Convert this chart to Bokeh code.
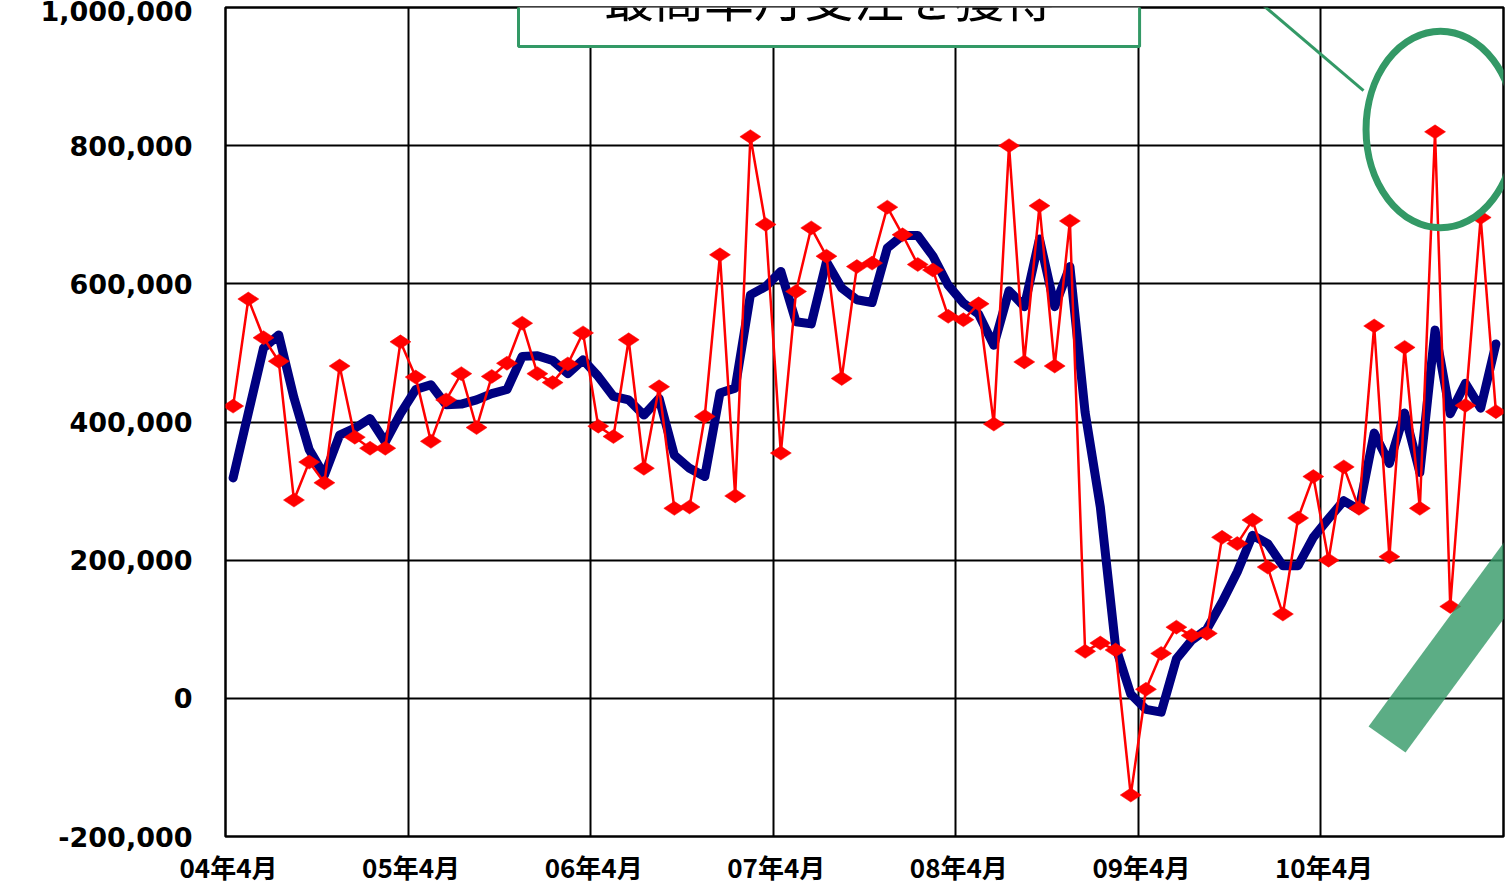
import numpy as np
from bokeh.plotting import figure
from bokeh.models import FixedTicker, NumeralTickFormatter, Range1d
from bokeh.core.properties import value
from bokeh.embed import file_html
from bokeh.resources import INLINE

# ---- data -------------------------------------------------------------
# monthly categories 04年4月 .. 11年3月
months = [f"{4 + (3 + i) // 12:02d}年{(3 + i) % 12 + 1}月" for i in range(84)]
x_idx = list(range(len(months)))

# monthly orders (red)
orders = [423, 578, 522, 488, 287, 342, 312, 481, 378, 362, 362, 516,
          465, 372, 432, 470, 392, 466, 485, 543, 470, 457, 484, 529,
          394, 379, 519, 333, 451, 275, 277, 408, 642, 293, 813, 686,
          355, 589, 681, 640, 463, 625, 630, 711, 671, 628, 620, 553,
          548, 571, 397, 800, 487, 713, 481, 691, 68, 80, 70, -140,
          13, 65, 103, 91, 94, 233, 224, 258, 190, 122, 261, 321,
          200, 335, 275, 539, 205, 508, 275, 820, 133, 424, 696, 415]
orders = [v * 1000 for v in orders]

# trend (navy)
trend = [319, 413, 507, 526, 435, 360, 323, 381, 391, 405, 371, 412,
         447, 454, 425, 426, 432, 441, 447, 495, 496, 489, 470, 490,
         466, 437, 432, 410, 434, 352, 333, 321, 442, 449, 584, 596,
         618, 545, 542, 632, 594, 577, 573, 652, 670, 670, 640, 598,
         572, 556, 511, 590, 567, 665, 567, 625, 414, 277, 75, 6,
         -16, -20, 57, 84, 100, 139, 183, 236, 224, 192, 192, 233,
         260, 286, 273, 384, 340, 413, 327, 533, 412, 456, 420, 513]
trend = [v * 1000 for v in trend]

y_ticks = [-200000, 0, 200000, 400000, 600000, 800000, 1000000]
year_ticks = [i - 0.5 for i, m in enumerate(months) if m.endswith("年4月")]
year_labels = [m for m in months if m.endswith("年4月")]

callout_text = "最高単月受注を獲得"

W = 1509
LEFT = 225
RIGHT = 6
TOP = 7
FRAME_H = 829
BOTTOM = 17
X0, X1 = -0.5, len(months) - 0.5

# ---- main figure ------------------------------------------------------
p = figure(width=W, height=TOP + FRAME_H + BOTTOM,
           x_range=Range1d(X0, X1), y_range=Range1d(-200000, 1000000),
           output_backend="svg", toolbar_location=None,
           min_border_left=LEFT, min_border_right=RIGHT,
           min_border_top=TOP, min_border_bottom=BOTTOM)
p.background_fill_color = "white"
p.border_fill_color = "white"
p.outline_line_color = "black"
p.outline_line_width = 2.5
p.outline_line_alpha = 1.0

p.xaxis.visible = False
p.yaxis.ticker = FixedTicker(ticks=y_ticks)
p.yaxis.formatter = NumeralTickFormatter(format="0,0")
p.yaxis.axis_line_color = None
p.yaxis.major_tick_line_color = None
p.yaxis.minor_tick_line_color = None
p.yaxis.major_label_text_color = "black"
p.yaxis.major_label_text_font_style = "bold"
p.yaxis.major_label_text_font = "DejaVu Sans"
p.yaxis.major_label_text_font_size = "27px"
p.yaxis.major_label_standoff = 27

p.xgrid.ticker = FixedTicker(ticks=[t for t in year_ticks if t > 0])
p.ygrid.ticker = FixedTicker(ticks=[t for t in y_ticks if -200000 < t < 1000000])
for g in (p.xgrid, p.ygrid):
    g.grid_line_color = "black"
    g.grid_line_width = 2
    g.grid_line_alpha = 1.0

# series
p.line(x_idx, trend, line_color="#000080", line_width=9,
       line_join="round", line_cap="round")
p.line(x_idx, orders, line_color="#FF0000", line_width=2.5)
p.scatter(x_idx, orders, marker="diamond", size=21, angle=np.pi / 2,
          fill_color="#FF0000", line_color="#FF0000", line_width=0.5)

# ---- annotations ------------------------------------------------------
green = "#339966"
p.quad(left=[18.76], right=[59.58], bottom=[943500], top=[1100000],
       fill_color="white", line_color=green, line_width=3)
p.text(x=[39.17], y=[1018800], text=[callout_text],
       text_font=value("Noto Sans CJK JP"), text_font_size="50px",
       text_align="center", text_baseline="middle", text_color="black")
p.line([65.56, 74.3], [1043400, 879800], line_color=green, line_width=3)
p.ellipse(x=[79.36], y=[823400], width=9.79, height=285160,
          fill_color=None, line_color=green, line_width=7)
p.patch([74.63, 77.06, 86.92, 84.49], [-40775, -78410, 216880, 254515],
        fill_color=green, fill_alpha=0.8, line_color=None)

# ---- x tick labels strip (same x scale, frame spans full width) -------
px_per = (W - LEFT - RIGHT) / (X1 - X0)
strip_h = 882 - (TOP + FRAME_H + BOTTOM)
lab = figure(width=W, height=strip_h,
             x_range=Range1d(X0 - LEFT / px_per, X1 + RIGHT / px_per),
             y_range=Range1d(0, 1),
             output_backend="svg", toolbar_location=None,
             min_border_left=0, min_border_right=0,
             min_border_top=0, min_border_bottom=0)
lab.axis.visible = False
lab.grid.visible = False
lab.outline_line_color = None
lab.background_fill_color = "white"
lab.border_fill_color = "white"
lab.text(x=[t + 0.2 for t in year_ticks], y=[0.54] * len(year_ticks),
         text=year_labels, text_font=value("Noto Sans CJK JP"),
         text_font_style="bold", text_font_size="26px",
         text_align="center", text_baseline="middle", text_color="black")

open("out.html", "w").write(file_html([p, lab], INLINE))
